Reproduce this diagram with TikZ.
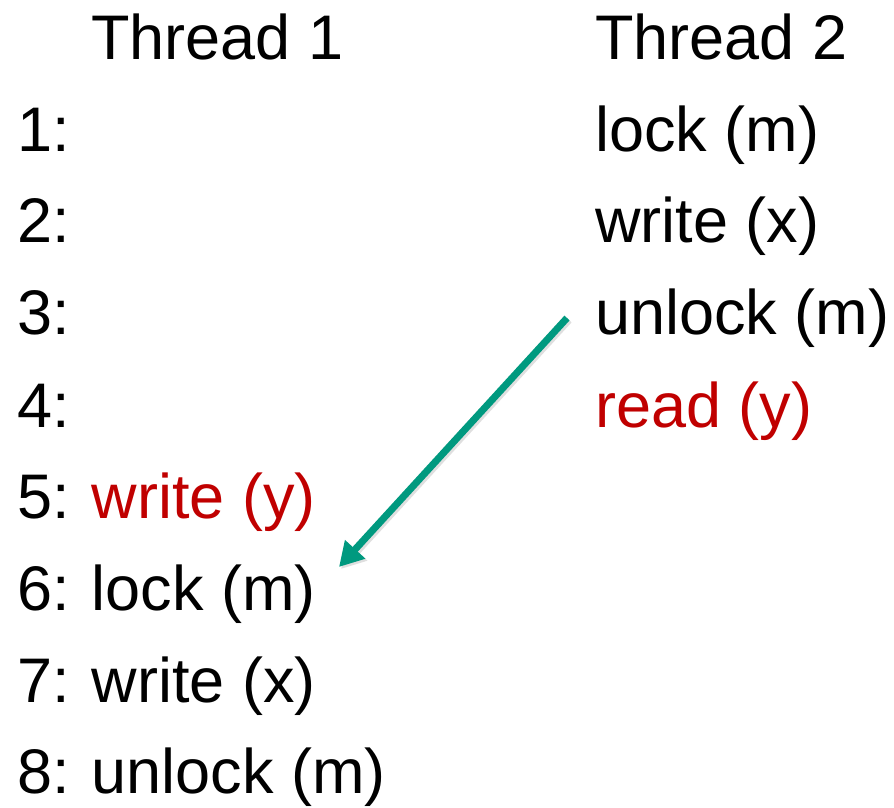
\documentclass[tikz,border=0pt]{standalone}
\usepackage{fontspec}
\setmainfont{Liberation Sans}
\usetikzlibrary{arrows.meta}
\definecolor{racered}{HTML}{C00000}
\definecolor{hbteal}{HTML}{00997F}
\begin{document}
\begin{tikzpicture}[x=1pt,y=1pt,
  lbl/.style={anchor=base west,inner sep=0pt,font=\fontsize{63}{76}\selectfont},
  hb/.style={draw=hbteal,line width=7pt,-{Triangle[length=24pt,width=26pt]}}]
\useasboundingbox (0,0) rectangle (894,807);
% headers
\node[lbl] (h1) at (91,747) {Thread 1};
\node[lbl] (h2) at (595,747) {Thread 2};
% thread 1 column
\node[lbl] (l1) at (17,655) {1:};
\node[lbl] (l2) at (17,564) {2:};
\node[lbl] (l3) at (17,472) {3:};
\node[lbl] (l4) at (17,380) {4:};
\node[lbl] (l5) at (17,289) {5:\hspace{22pt}\textcolor{racered}{write (y)}};
\node[lbl] (l6) at (17,197) {6:\hspace{22pt}lock (m)};
\node[lbl] (l7) at (17,105) {7:\hspace{22pt}write (x)};
\node[lbl] (l8) at (17,14) {8:\hspace{22pt}unlock (m)};
% thread 2 column
\node[lbl] (r1) at (595,655) {lock (m)};
\node[lbl] (r2) at (595,564) {write (x)};
\node[lbl] (r3) at (595,472) {unlock (m)};
\node[lbl,text=racered] (r4) at (595,380) {read (y)};
% happens-before arrow
\coordinate (hbs) at (567,489);
\coordinate (hbe) at (339,240);
\draw[hb,draw=black!25,fill=black!25,opacity=0.5,transform canvas={shift={(2pt,-2pt)}}] (hbs) -- (hbe);
\draw[hb,fill=hbteal] (hbs) -- (hbe);
\end{tikzpicture}
\end{document}
